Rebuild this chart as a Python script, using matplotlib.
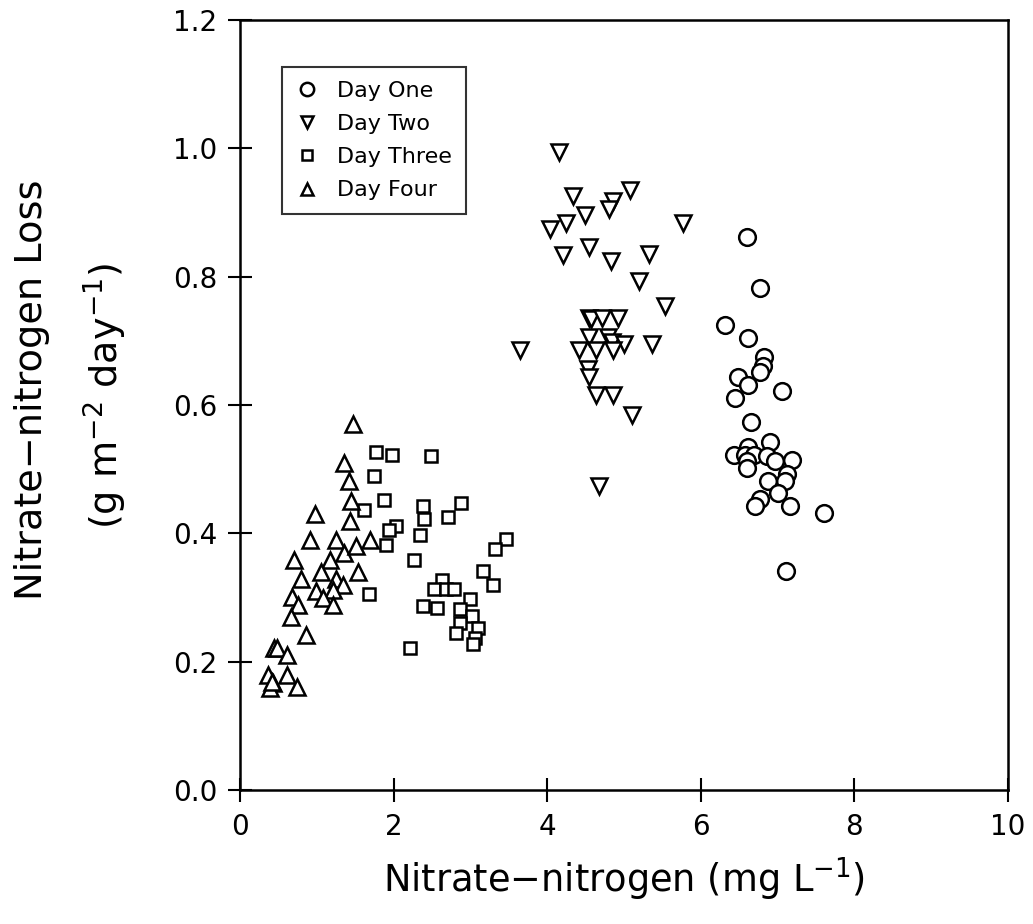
import matplotlib
matplotlib.use("Agg")
import matplotlib.pyplot as plt

# Day One (circles)
day1_x = [6.60, 6.77, 6.32, 6.61, 6.82, 6.81, 6.77, 6.49, 6.61, 7.06, 6.45, 6.65, 6.90,
          6.61, 6.43, 6.58, 6.69, 6.86, 6.60, 6.96, 7.19, 6.60, 7.12, 7.10, 6.88, 7.01,
          6.77, 6.70, 7.16, 7.60, 7.11]
day1_y = [0.862, 0.782, 0.724, 0.704, 0.675, 0.661, 0.651, 0.643, 0.631, 0.622, 0.611,
          0.573, 0.543, 0.534, 0.522, 0.522, 0.522, 0.521, 0.513, 0.513, 0.515, 0.502,
          0.492, 0.482, 0.482, 0.463, 0.453, 0.442, 0.442, 0.431, 0.342]

# Day Two (down triangles)
day2_x = [4.15, 4.34, 5.08, 4.86, 4.81, 4.49, 4.24, 4.04, 5.77, 4.54, 4.20, 4.83, 5.32,
          5.20, 5.53, 4.54, 4.57, 4.72, 4.92, 4.55, 4.79, 4.85, 5.00, 5.37, 3.65, 4.41,
          4.64, 4.86, 4.53, 4.55, 4.63, 4.86, 5.10, 4.68]
day2_y = [0.995, 0.925, 0.935, 0.918, 0.906, 0.896, 0.884, 0.875, 0.884, 0.846, 0.834,
          0.824, 0.835, 0.794, 0.755, 0.735, 0.734, 0.735, 0.735, 0.706, 0.706, 0.698,
          0.695, 0.695, 0.685, 0.685, 0.685, 0.685, 0.656, 0.644, 0.615, 0.615, 0.584,
          0.473]

# Day Three (squares)
day3_x = [1.775, 1.98, 2.49, 1.74, 1.88, 1.61, 2.38, 2.39, 2.88, 2.71, 2.03, 1.94, 2.34,
          1.90, 3.46, 3.32, 2.26, 3.17, 3.29, 2.63, 2.53, 2.68, 2.78, 1.68, 3.00, 2.38,
          2.57, 2.86, 3.02, 2.86, 3.10, 2.81, 3.06, 3.04, 2.21]
day3_y = [0.527, 0.522, 0.521, 0.490, 0.452, 0.436, 0.443, 0.423, 0.447, 0.426, 0.411,
          0.405, 0.398, 0.382, 0.391, 0.376, 0.359, 0.341, 0.319, 0.328, 0.314, 0.314,
          0.314, 0.306, 0.297, 0.286, 0.284, 0.282, 0.271, 0.261, 0.253, 0.244, 0.237,
          0.227, 0.221]

# Day Four (up triangles)
day4_x = [1.47, 1.36, 1.42, 1.44, 1.43, 0.974, 0.909, 1.247, 1.35, 1.515, 1.69, 1.17,
          0.705, 1.06, 1.54, 0.79, 1.247, 1.34, 1.21, 0.996, 1.08, 0.68, 0.757, 1.21,
          0.66, 0.853, 0.446, 0.476, 0.606, 0.36, 0.606, 0.43, 0.39, 0.745, 0.42]
day4_y = [0.570, 0.510, 0.481, 0.450, 0.419, 0.430, 0.390, 0.390, 0.370, 0.380, 0.390,
          0.359, 0.359, 0.340, 0.340, 0.329, 0.329, 0.319, 0.311, 0.310, 0.300, 0.301,
          0.289, 0.289, 0.270, 0.241, 0.221, 0.221, 0.211, 0.180, 0.180, 0.166, 0.159,
          0.160, 0.169]

x_ticks = [0, 2, 4, 6, 8, 10]
y_ticks = [0.0, 0.2, 0.4, 0.6, 0.8, 1.0, 1.2]
y_tick_labels = ["0.0", "0.2", "0.4", "0.6", "0.8", "1.0", "1.2"]

plt.rcParams['font.family'] = ['DejaVu Sans']

W, H = 1033, 924
fig = plt.figure(figsize=(W / 100, H / 100), dpi=100)
ax = fig.add_axes([240 / W, 1 - 790 / H, 768 / W, 770 / H])

mew = 1.8
common = dict(linestyle='none', markerfacecolor='white', markeredgecolor='black',
              markeredgewidth=mew)
ax.plot(day1_x, day1_y, marker='o', markersize=12.0, label='Day One', **common)
ax.plot(day2_x, day2_y, marker='v', markersize=11.0, label='Day Two', **common)
ax.plot(day3_x, day3_y, marker='s', markersize=9.2, label='Day Three', **common)
ax.plot(day4_x, day4_y, marker='^', markersize=11.0, label='Day Four', **common)

ax.set_xlim(0, 10)
ax.set_ylim(0, 1.2)
ax.set_xticks(x_ticks)
ax.set_xticklabels([str(t) for t in x_ticks])
ax.set_yticks(y_ticks)
ax.set_yticklabels(y_tick_labels)
ax.tick_params(direction='inout', length=17, width=1.5, labelsize=20, pad=8)
for s in ax.spines.values():
    s.set_linewidth(1.8)

ax.set_xlabel('Nitrate\u2212nitrogen (mg L$^{-1}$)', fontsize=26.5, labelpad=10)

fig.text(32 / W, 1 - 390 / H, 'Nitrate\u2212nitrogen Loss', rotation=90,
         ha='center', va='center', fontsize=27.5)
fig.text(105 / W, 1 - 396 / H, '(g m$^{-2}$ day$^{-1}$)', rotation=90,
         ha='center', va='center', fontsize=27.5)

leg = ax.legend(loc='upper left', bbox_to_anchor=((282 - 240) / 768, 1 - (67 - 20) / 770),
                borderaxespad=0, fontsize=16, markerscale=0.8, frameon=True,
                fancybox=False, edgecolor='black', handlelength=1.0,
                handletextpad=0.85, labelspacing=0.59, borderpad=0.63)
leg.get_frame().set_linewidth(1.5)

fig.savefig('out.png', dpi=100)
